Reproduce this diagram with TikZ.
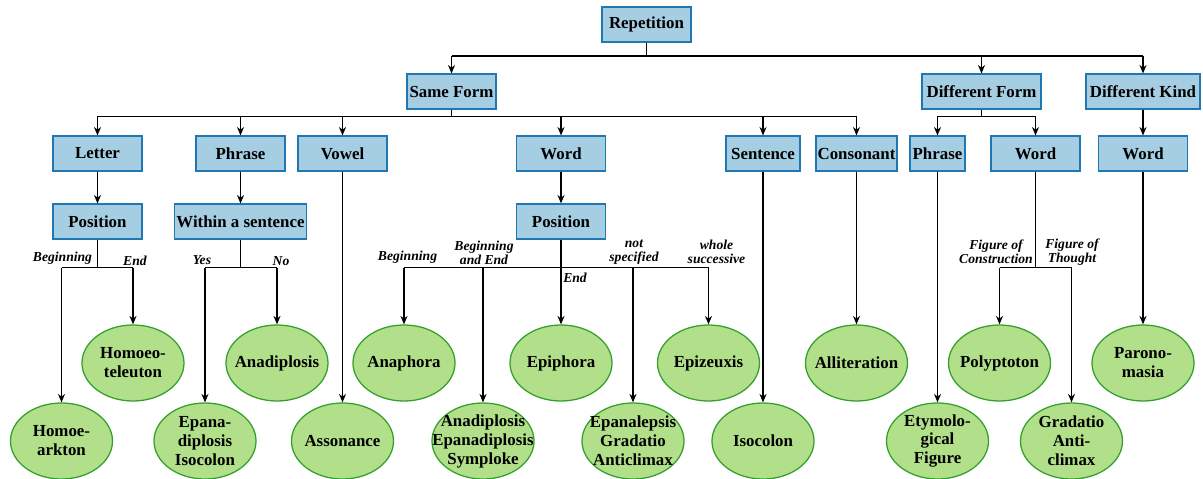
\documentclass[tikz,border=0pt]{standalone}
\usepackage{fontspec}
\setmainfont{Liberation Serif}
\usetikzlibrary{arrows.meta,shapes.geometric}
\definecolor{boxfill}{HTML}{A6CEE3}
\definecolor{boxline}{HTML}{1F78B4}
\definecolor{leaffill}{HTML}{B2DF8A}
\definecolor{leafline}{HTML}{33A02C}

\begin{document}
\begin{tikzpicture}[x=0.025cm, y=-0.025cm, line width=0.9pt,
		box/.style={draw=boxline, fill=boxfill, line width=0.8pt, minimum width=2.225cm, minimum height=0.875cm, inner xsep=1pt, font=\bfseries\fontsize{12}{14}\selectfont},
		leaf/.style={ellipse, draw=leafline, fill=leaffill, line width=0.9pt, minimum width=2.55cm, minimum height=1.9cm, label={[leaftext]center:#1}},
		leaftext/.style={align=center, font=\bfseries\fontsize{12}{13.5}\selectfont},
		tag/.style={align=center, inner sep=0pt, font=\bfseries\itshape\fontsize{9.7}{10}\selectfont},
		link/.style={-{Stealth[length=6pt,width=5pt]}}]
			\useasboundingbox (0,0) rectangle (1203,479);
			% boxes
			\node[box] (rep) at (646.5,24.5) {Repetition};
			\node[box] (same) at (451.5,91.5) {Same Form};
			\node[box, minimum width=2.975cm] (dform) at (981.5,91.5) {Different Form};
			\node[box, minimum width=2.85cm] (dkind) at (1143,91.5) {Different Kind};
			\node[box] (letter) at (97.5,153.5) {Letter};
			\node[box] (phrase) at (240.5,153.5) {Phrase};
			\node[box] (vowel) at (342.5,153.5) {Vowel};
			\node[box] (word) at (561,153.5) {Word};
			\node[box, minimum width=1.85cm] (sentence) at (763,153.5) {Sentence};
			\node[box, minimum width=2.025cm] (consonant) at (856.5,153.5) {Consonant};
			\node[box, minimum width=1.375cm] (dfphrase) at (937.5,153.5) {Phrase};
			\node[box] (dfword) at (1035.5,153.5) {Word};
			\node[box] (dkword) at (1143,153.5) {Word};
			\node[box] (lpos) at (97.5,221.5) {Position};
			\node[box, minimum width=3.3cm] (within) at (240.5,221.5) {Within a sentence};
			\node[box] (wpos) at (561,221.5) {Position};
			% figures
			\node[leaf={Homoeo-\\teleuton}] (homtel) at (133,363) {};
			\node[leaf={Anadiplosis}] (anadip) at (277,363) {};
			\node[leaf={Anaphora}] (anaphora) at (404,363) {};
			\node[leaf={Epiphora}] (epiphora) at (561,363) {};
			\node[leaf={Epizeuxis}] (epizeux) at (708.5,363) {};
			\node[leaf={Alliteration}] (allit) at (856.5,363) {};
			\node[leaf={Polyptoton}] (polyp) at (999.5,363) {};
			\node[leaf={Parono-\\masia}] (parono) at (1143,363) {};
			\node[leaf={Homoe-\\arkton}] (homark) at (61.5,441) {};
			\node[leaf={Epana-\\diplosis\\Isocolon}] (epanadip) at (205,441) {};
			\node[leaf={Assonance}] (asson) at (342.5,441) {};
			\node[leaf={Anadiplosis\\Epanadiplosis\\Symploke}] (anasym) at (483,441) {};
			\node[leaf={Epanalepsis\\Gradatio\\Anticlimax}] (epanalep) at (633,441) {};
			\node[leaf={Isocolon}] (isocolon) at (763,441) {};
			\node[leaf={Etymolo-\\gical\\Figure}] (etym) at (937.5,441) {};
			\node[leaf={Gradatio\\Anti-\\climax}] (gradatio) at (1071.5,441) {};
			% edge labels
			\node[tag] (lbeg) at (62.5,258) {Beginning};
			\node[tag] (lend) at (135,261) {End};
			\node[tag] (lyes) at (202,260) {Yes};
			\node[tag] (lno) at (281,261) {No};
			\node[tag] (wbeg) at (407.5,257) {Beginning};
			\node[tag] (wbegend) at (484,253) {Beginning\\and End};
			\node[tag] (wend) at (575,278) {End};
			\node[tag] (wnot) at (634,252) {not\\specified};
			\node[tag] (wwhole) at (716.5,252) {whole\\successive};
			\node[tag] (fcons) at (996,252) {Figure of\\Construction};
			\node[tag] (fthought) at (1072,252) {Figure of\\Thought};
			% connectors
			\draw (rep.south) -- ++(0,13.5) coordinate (repbus);
			\draw (same.north |- repbus) -- (dkind.north |- repbus);
			\foreach \k in {same,dform,dkind}
				\draw[link] (\k.north |- repbus) -- (\k.north);
			\draw (same.south) -- ++(0,6.7) coordinate (samebus);
			\draw (letter.north |- samebus) -- (consonant.north |- samebus);
			\foreach \k in {letter,phrase,vowel,word,sentence,consonant}
				\draw[link] (\k.north |- samebus) -- (\k.north);
			\draw (dform.south) -- ++(0,6.7) coordinate (dfbus);
			\draw (dfphrase.north |- dfbus) -- (dfword.north |- dfbus);
			\foreach \k in {dfphrase,dfword}
				\draw[link] (\k.north |- dfbus) -- (\k.north);
			\draw[link] (dkind) -- (dkword);
			\draw[link] (letter) -- (lpos);
			\draw[link] (phrase) -- (within);
			\draw[link] (word) -- (wpos);
			\draw (lpos.south) -- ++(0,28) coordinate (lposbus);
			\draw (homark.north |- lposbus) -- (homtel.north |- lposbus);
			\foreach \k in {homark,homtel}
				\draw[link] (\k.north |- lposbus) -- (\k.north);
			\draw (within.south) -- ++(0,28) coordinate (withinbus);
			\draw (epanadip.north |- withinbus) -- (anadip.north |- withinbus);
			\foreach \k in {epanadip,anadip}
				\draw[link] (\k.north |- withinbus) -- (\k.north);
			\draw (wpos.south) -- ++(0,28) coordinate (wposbus);
			\draw (anaphora.north |- wposbus) -- (epizeux.north |- wposbus);
			\foreach \k in {anaphora,anasym,epiphora,epanalep,epizeux}
				\draw[link] (\k.north |- wposbus) -- (\k.north);
			\draw (dfword.south) -- ++(0,96) coordinate (dfwordbus);
			\draw (polyp.north |- dfwordbus) -- (gradatio.north |- dfwordbus);
			\foreach \k in {polyp,gradatio}
				\draw[link] (\k.north |- dfwordbus) -- (\k.north);
			\draw[link] (vowel.south) -- (asson.north);
			\draw[link] (sentence.south) -- (isocolon.north);
			\draw[link] (consonant.south) -- (allit.north);
			\draw[link] (dfphrase.south) -- (etym.north);
			\draw[link] (dkword.south) -- (parono.north);
\end{tikzpicture}
\end{document}
